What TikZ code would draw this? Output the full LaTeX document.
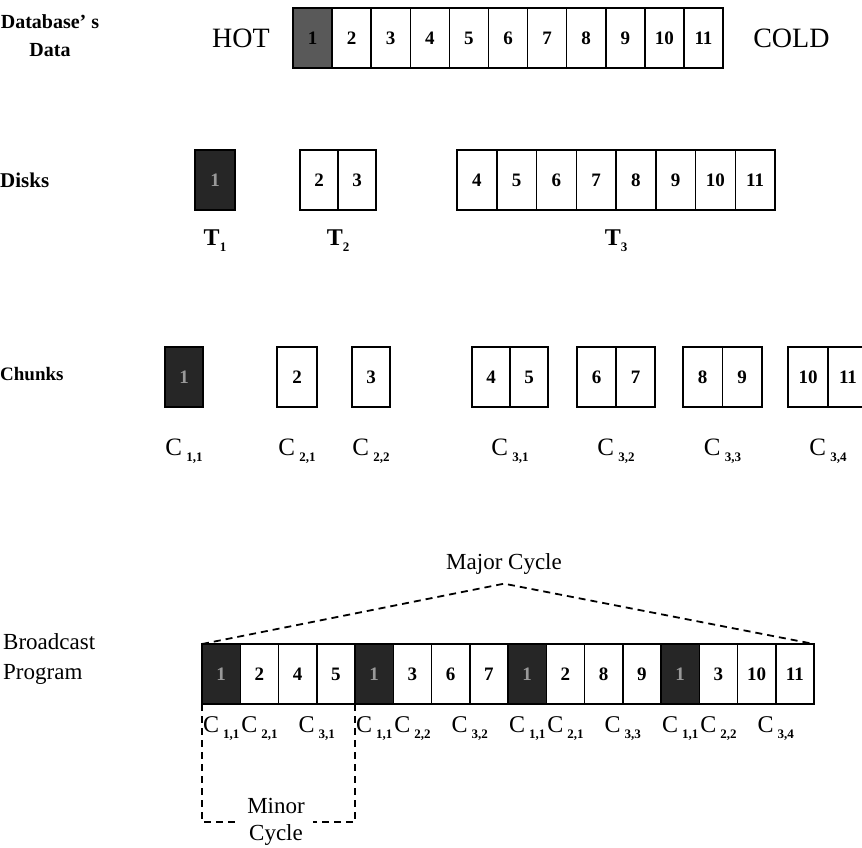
\documentclass[tikz,border=0pt]{standalone}
\usepackage{fontspec}
\setmainfont{Liberation Serif}
\usetikzlibrary{positioning}
\newcommand{\cname}[1]{C\,\raisebox{-6pt}{\fontsize{13}{13}\selectfont\bfseries #1}}
\newcommand{\tname}[1]{T\raisebox{-6pt}{\fontsize{13}{13}\selectfont #1}}
\tikzset{
  cell/.style={rectangle, draw, line width=1.5pt, outer sep=0pt, inner sep=0pt, minimum width=38pt, minimum height=60pt, fill=white, font=\fontsize{19}{19}\selectfont\bfseries},
  hot/.style={cell, fill=black!85, text=black!40},
  rowname/.style={font=\fontsize{20}{28}\selectfont\bfseries, inner sep=0pt},
  endname/.style={font=\fontsize{28}{28}\selectfont, inner sep=0pt}
}

\begin{document}
\begin{tikzpicture}[x=1pt, y=-1pt,
    % styles for the labels under the cells
    tierlbl/.style={font=\fontsize{24}{24}\selectfont\bfseries, inner sep=0pt},
    chunklbl/.style={font=\fontsize{25}{25}\selectfont, inner sep=0pt},
    cyclelbl/.style={font=\fontsize{23}{27}\selectfont, align=center, inner sep=0pt},
    cycleline/.style={line width=1.8pt, dash pattern=on 7pt off 5pt}
]
\useasboundingbox (0,0) rectangle (862,847);

% --- Database's Data ---
\node[rowname, align=center] (dbname) at (50,36) {Database' s\\Data};
\node[hot, fill=black!65, text=black, minimum width=39.1pt] (d1) at (312.5,38) {1};
\foreach \i [count=\j from 1] in {2,...,11} {
    \node[cell, minimum width=39.1pt, right=0pt of d\j] (d\i) {\i};
}
\node[endname, left=23pt of d1] (hot) {HOT};
\node[endname, right=30pt of d11] (cold) {COLD};

% --- Disks ---
\node[rowname, font=\fontsize{21}{21}\selectfont\bfseries, anchor=west] (disks) at (0,180) {Disks};
\node[hot, minimum width=40pt] (t1) at (215,180) {1};
\node[cell] (t2) at (319,180) {2};
\node[cell, right=0pt of t2] (t3) {3};
\node[cell, minimum width=39.75pt] (t4) at (476.9,180) {4};
\foreach \i [count=\j from 4] in {5,...,11} {
    \node[cell, minimum width=39.75pt, right=0pt of t\j] (t\i) {\i};
}
\node[tierlbl, below=20pt of t1] (T1) {\tname{1}};
\node[tierlbl, below=20pt of t2.south east] (T2) {\tname{2}};
\node[tierlbl, below=20pt of t7.south east] (T3) {\tname{3}};

% --- Chunks ---
\node[rowname, font=\fontsize{19}{19}\selectfont\bfseries, anchor=west] (chunks) at (0,374) {Chunks};
\node[hot] (k1) at (184,377) {1};
\node[cell, minimum width=40pt] (k2) at (297,377) {2};
\node[cell] (k3) at (371,377) {3};
\node[cell] (k4) at (491,377) {4};
\node[cell, right=0pt of k4] (k5) {5};
\node[cell, minimum width=39pt] (k6) at (596.5,377) {6};
\node[cell, minimum width=39pt, right=0pt of k6] (k7) {7};
\node[cell, minimum width=39.5pt] (k8) at (702.7,377) {8};
\node[cell, minimum width=39.5pt, right=0pt of k8] (k9) {9};
\node[cell, minimum width=40pt] (k10) at (808,377) {10};
\node[cell, minimum width=40pt, right=0pt of k10] (k11) {11};

\node[chunklbl, below=32pt of k1] (C11) {\cname{1,1}};
\node[chunklbl, below=32pt of k2] (C21) {\cname{2,1}};
\node[chunklbl, below=32pt of k3] (C22) {\cname{2,2}};
\node[chunklbl, below=32pt of k4.south east] (C31) {\cname{3,1}};
\node[chunklbl, below=32pt of k6.south east] (C32) {\cname{3,2}};
\node[chunklbl, below=32pt of k8.south east] (C33) {\cname{3,3}};
\node[chunklbl, below=32pt of k10.south east] (C34) {\cname{3,4}};

% --- Broadcast Program ---
\node[rowname, font=\fontsize{23}{30}\selectfont, align=left, anchor=west] (bcast) at (3,659) {Broadcast\\Program};
\foreach \v [count=\i] in {1,2,4,5,1,3,6,7,1,2,8,9,1,3,10,11} {
    \ifnum\v=1 \def\cellsty{hot}\else\def\cellsty{cell}\fi
    \node[\cellsty, minimum width=38.25pt] (b\i) at ({182.9+38.25*\i},674) {\v};
}

% chunk names under the program
\foreach \c/\n in {b1/{1,1}, b2/{2,1}, b3.south east/{3,1}, b5/{1,1}, b6/{2,2}, b7.south east/{3,2},
                   b9/{1,1}, b10/{2,1}, b11.south east/{3,3}, b13/{1,1}, b14/{2,2}, b15.south east/{3,4}} {
    \node[chunklbl, font=\fontsize{24}{24}\selectfont, below=12pt of \c] {\cname{\n}};
}

% --- Major cycle ---
\node[cyclelbl] (major) at (504,564) {Major Cycle};
\coordinate (peak) at ([yshift=-9pt]major.south);
\draw[cycleline] (b1.north west) -- (peak) -- (b16.north east);

% --- Minor cycle ---
\node[cyclelbl, inner xsep=8pt] (minor) at (276,822) {Minor\\Cycle};
\draw[cycleline] (b1.south west) |- (minor.west);
\draw[cycleline] (b4.south east) |- (minor.east);

\end{tikzpicture}
\end{document}
